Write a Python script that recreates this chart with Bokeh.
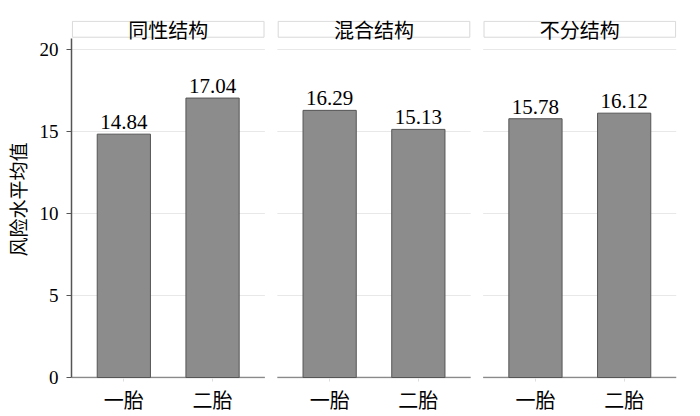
from bokeh.plotting import figure
from bokeh.models import ColumnDataSource, FixedTicker, Range1d, LabelSet, CustomJSTickFormatter
from bokeh.core.properties import value
from bokeh.embed import file_html
from bokeh.resources import INLINE

# ---- data ----
groups = ["同性结构", "混合结构", "不分结构"]
births = ["一胎", "二胎"]
values_same = [14.84, 17.04]
values_mixed = [16.29, 15.13]
values_none = [15.78, 16.12]
y_ticks = [0, 5, 10, 15, 20]
y_label = "风险水平均值"

# ---- layout constants ----
PITCH = 2.32      # distance between panels (x units)
PAD = 0.59        # space between panel edge and bar centre
BAR_W = 0.6
Y_MIN, Y_MAX = -0.06, 21.77
AXIS_TOP = 20.67
HEAD_BOTTOM, HEAD_TOP = 20.75, 21.72

CJK = "Noto Sans CJK SC"
SERIF = "Liberation Serif"

series = [values_same, values_mixed, values_none]
xs, tops, texts = [], [], []
for gi, vals in enumerate(series):
    for bi, v in enumerate(vals):
        xs.append(round(gi * PITCH + bi + 1, 4))
        tops.append(v)
        texts.append(f"{v:.2f}")
bars = ColumnDataSource(dict(x=xs, top=tops, text=texts))

p_left = [gi * PITCH + 1 - PAD for gi in range(len(groups))]
p_right = [gi * PITCH + len(births) + PAD for gi in range(len(groups))]

p = figure(width=684, height=416, output_backend="svg", toolbar_location=None,
           x_range=Range1d(p_left[0], p_right[-1]), y_range=Range1d(Y_MIN, Y_MAX),
           min_border_left=69, min_border_right=8, min_border_top=20, min_border_bottom=38)
p.outline_line_color = None
p.xgrid.visible = False
p.ygrid.visible = False
p.background_fill_color = "white"
p.border_fill_color = "white"

# grid lines per panel
gx0, gx1, gy = [], [], []
for gi in range(len(groups)):
    for t in y_ticks[1:]:
        gx0.append(p_left[gi]); gx1.append(p_right[gi]); gy.append(t)
p.segment(x0=gx0, y0=gy, x1=gx1, y1=gy, line_color="#e8e8e8", line_width=1)

# baselines per panel
p.segment(x0=p_left, y0=[0] * len(groups), x1=p_right, y1=[0] * len(groups),
          line_color="#8a8a8a", line_width=1.5)

# bars
p.vbar(x="x", top="top", bottom=0, width=BAR_W, source=bars,
       fill_color="#8c8c8c", line_color="#555555", line_width=1)

labels = LabelSet(x="x", y="top", text="text", source=bars, y_offset=5,
                  text_align="center", text_baseline="bottom",
                  text_font=value(SERIF), text_font_size="21px", text_color="black")
p.add_layout(labels)

# panel headers
p.quad(left=[l + 0.01 for l in p_left], right=[r - 0.01 for r in p_right],
       bottom=HEAD_BOTTOM, top=HEAD_TOP, fill_color="white",
       line_color="#d8d8d8", line_width=1)
p.text(x=[(l + r) / 2 for l, r in zip(p_left, p_right)],
       y=[(HEAD_BOTTOM + HEAD_TOP) / 2] * len(groups), text=groups,
       text_align="center", text_baseline="middle",
       text_font=value(CJK), text_font_size="20px", text_color="black")

# y axis
ya = p.yaxis[0]
ya.ticker = FixedTicker(ticks=y_ticks)
ya.bounds = (0, AXIS_TOP)
ya.axis_line_color = "#555555"
ya.axis_line_width = 1.5
ya.major_tick_line_color = "#555555"
ya.major_tick_out = 5
ya.major_tick_in = 0
ya.minor_tick_line_color = None
ya.major_label_text_font = SERIF
ya.major_label_text_font_size = "19px"
ya.major_label_text_color = "black"
ya.major_label_standoff = 8
ya.axis_label = y_label
ya.axis_label_text_font = CJK
ya.axis_label_text_font_size = "19px"
ya.axis_label_text_font_style = "normal"
ya.axis_label_text_color = "black"
ya.axis_label_standoff = 6

# x axis
xa = p.xaxis[0]
xa.ticker = FixedTicker(ticks=xs)
xa.formatter = CustomJSTickFormatter(args=dict(labels=births),
                                     code="return labels[index % labels.length];")
xa.axis_line_color = None
xa.major_tick_line_color = "#dddddd"
xa.major_tick_out = 3
xa.major_tick_in = 0
xa.minor_tick_line_color = None
xa.major_label_text_font = CJK
xa.major_label_text_font_size = "20px"
xa.major_label_text_color = "black"
xa.major_label_standoff = 3

open("out.html", "w").write(file_html(p, INLINE))
